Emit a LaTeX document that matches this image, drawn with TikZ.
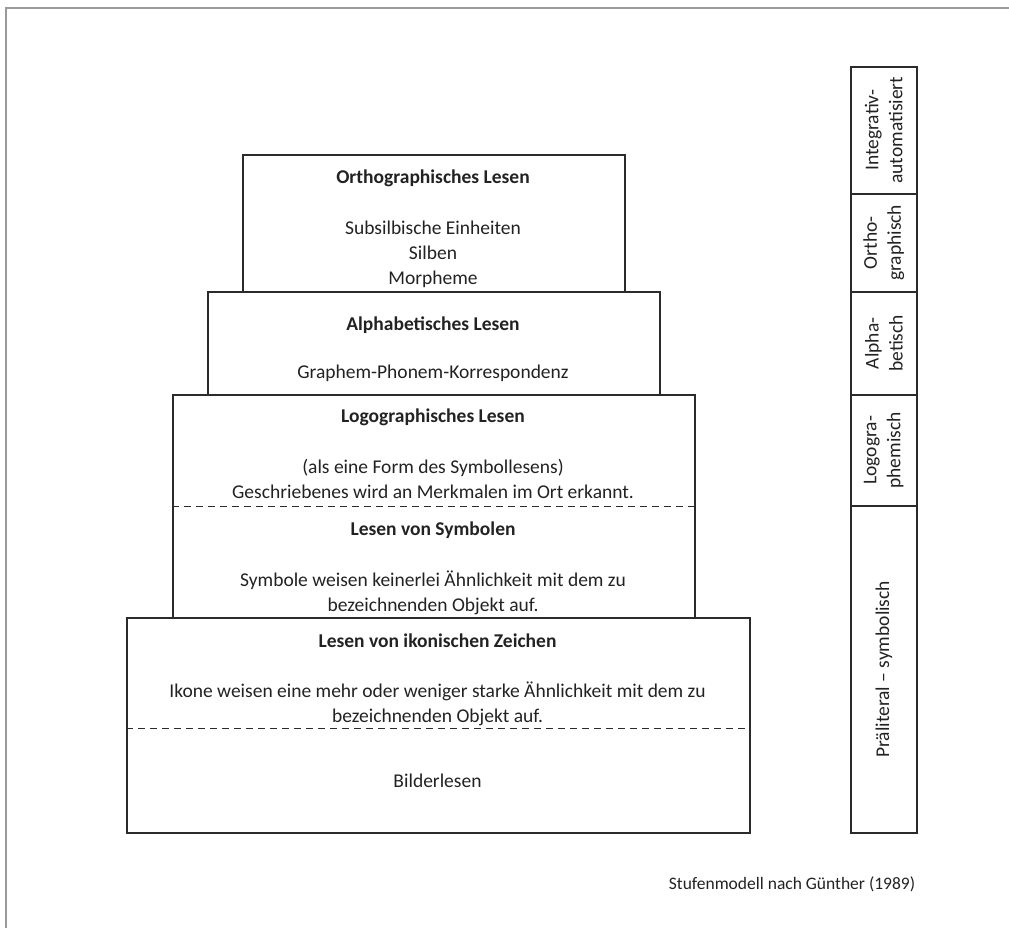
\documentclass[tikz,border=0pt]{standalone}
\usepackage{fontspec}
\setmainfont{Carlito}
\definecolor{boxline}{HTML}{2B2B2B}
\definecolor{framegray}{HTML}{9A9A9A}
\definecolor{txt}{HTML}{222222}
\begin{document}
\begin{tikzpicture}[x=1pt,y=-1pt,
  stage/.style={draw=boxline,line width=1.6pt,rectangle,inner sep=0pt,anchor=north west},
  lbl/.style={text=txt,font=\fontsize{19.5}{25}\selectfont,align=center,inner sep=0pt,anchor=center},
  ttl/.style={lbl,font=\fontsize{19.5}{25}\selectfont\bfseries},
  sidelbl/.style={lbl,rotate=90,font=\fontsize{19.5}{24}\selectfont},
  divider/.style={draw=boxline,line width=1pt,dash pattern=on 7pt off 5pt}]
\useasboundingbox (0,0) rectangle (1009,928);
% frame
\draw[framegray,line width=2pt] (1009,8) -- (6,8) -- (6,928);
% stages
\node[stage,minimum width=623pt,minimum height=215pt] (b5) at (126,617) {};
\node[stage,minimum width=522pt,minimum height=223pt] (b4) at (172,394) {};
\node[stage,minimum width=452pt,minimum height=103pt] (b3) at (207,291) {};
\node[stage,minimum width=382pt,minimum height=137pt] (b2) at (242,154) {};
% dashed separators
\draw[divider] (b4.west |- 0,506) -- (b4.east |- 0,506);
\draw[divider] (b5.west |- 0,728) -- (b5.east |- 0,728);
% texts
\node[ttl] (t2) at (433,178) {Orthographisches Lesen};
\node[lbl] (s2) at (433,254) {Subsilbische Einheiten\\Silben\\Morpheme};
\node[ttl] (t3) at (433,325) {Alphabetisches Lesen};
\node[lbl] (s3) at (433,373) {Graphem-Phonem-Korrespondenz};
\node[ttl] (t4) at (433,417) {Logographisches Lesen};
\node[lbl] (s4) at (433,478.5) {(als eine Form des Symbollesens)\\Geschriebenes wird an Merkmalen im Ort erkannt.};
\node[ttl] (t4b) at (433,530) {Lesen von Symbolen};
\node[lbl] (s4b) at (433,592.5) {Symbole weisen keinerlei Ähnlichkeit mit dem zu\\bezeichnenden Objekt auf.};
\node[ttl] (t5) at (437.5,641) {Lesen von ikonischen Zeichen};
\node[lbl] (s5) at (437.5,703.5) {Ikone weisen eine mehr oder weniger starke Ähnlichkeit mit dem zu\\bezeichnenden Objekt auf.};
\node[lbl] (s5b) at (437.5,781) {Bilderlesen};
% side column
\node[stage,minimum width=66pt,minimum height=127pt] (r1) at (850,66) {};
\node[stage,minimum width=66pt,minimum height=98pt] (r2) at (850,193) {};
\node[stage,minimum width=66pt,minimum height=103pt] (r3) at (850,291) {};
\node[stage,minimum width=66pt,minimum height=111pt] (r4) at (850,394) {};
\node[stage,minimum width=66pt,minimum height=327pt] (r5) at (850,505) {};
\node[sidelbl] at (r1.center) {Integrativ-\\automatisiert};
\node[sidelbl] at (r2.center) {Ortho-\\graphisch};
\node[sidelbl] at (r3.center) {Alpha-\\betisch};
\node[sidelbl] at (r4.center) {Logogra-\\phemisch};
\node[sidelbl] at (r5.center) {Präliteral – symbolisch};
% caption
\node[lbl,font=\fontsize{17.5}{20}\selectfont] (cap) at (792,884) {Stufenmodell nach Günther (1989)};
\end{tikzpicture}
\end{document}
